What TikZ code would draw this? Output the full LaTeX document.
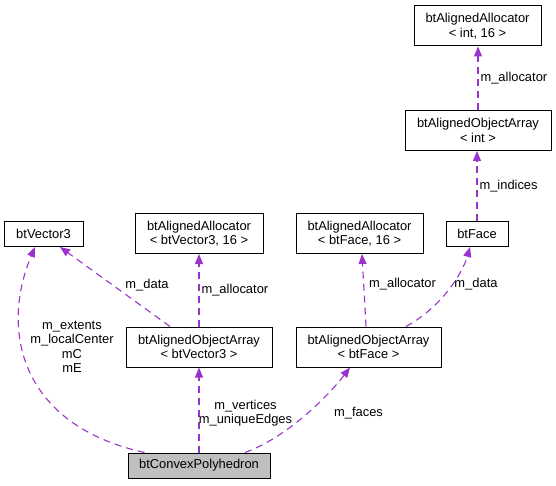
\documentclass[tikz,border=0pt]{standalone}
\usepackage{fontspec}
\setmainfont{Liberation Sans}
\usetikzlibrary{positioning,arrows.meta}
\definecolor{edgepurple}{HTML}{9A32CD}
\definecolor{mainfill}{HTML}{BFBFBF}
\tikzstyle{cls} = [draw, rectangle, line width=1pt, inner sep=0pt, align=center, font=\fontsize{12.9}{14.4}\selectfont]
\tikzstyle{arrow} = [edgepurple, line width=1.1pt, dash pattern=on 7pt off 5pt, -{Triangle[length=10pt,width=8pt]}]
\tikzstyle{lbl} = [text=black, inner sep=2pt, align=center, font=\fontsize{12.9}{14.4}\selectfont]

\begin{document}
\begin{tikzpicture}[x=1pt, y=1pt]

    \useasboundingbox (0,0) rectangle (556,485);

    \node[cls, minimum width=127pt, minimum height=40pt] (allocInt)  at (477.5,459)   {btAlignedAllocator\\< int, 16 >};
    \node[cls, minimum width=146pt, minimum height=40pt] (arrInt)    at (478,354.5)   {btAlignedObjectArray\\< int >};
    \node[cls, minimum width=62pt,  minimum height=25pt] (face)      at (477,251)     {btFace};
    \node[cls, minimum width=79pt,  minimum height=25pt] (vec3)      at (43.5,251)    {btVector3};
    \node[cls, minimum width=128pt, minimum height=40pt] (allocVec3) at (199,251.5)   {btAlignedAllocator\\< btVector3, 16 >};
    \node[cls, minimum width=127pt, minimum height=40pt] (allocFace) at (359.5,251.5) {btAlignedAllocator\\< btFace, 16 >};
    \node[cls, minimum width=146pt, minimum height=40pt] (arrVec3)   at (199,138)     {btAlignedObjectArray\\< btVector3 >};
    \node[cls, minimum width=145pt, minimum height=40pt] (arrFace)   at (368.5,138)   {btAlignedObjectArray\\< btFace >};
    \node[cls, minimum width=142pt, minimum height=25pt, fill=mainfill] (poly) at (199,19.5) {btConvexPolyhedron};

    \draw[arrow] ([xshift=17pt]poly.north west) .. controls (20,60) and (0,155) .. ([xshift=-8.5pt]vec3.south);
    \draw[arrow] ([xshift=-29pt]arrVec3.north) -- ([xshift=16.5pt]vec3.south);
    \draw[arrow] (arrVec3.north) -- (allocVec3.south) node[midway, right, lbl] (lAllocVec3) {m\_allocator};
    \draw[arrow] (poly.north) -- (arrVec3.south);
    \draw[arrow] ([xshift=46pt]poly.north) .. controls (285,47) and (325,85) .. ([xshift=-18.5pt]arrFace.south);
    \draw[arrow] ([xshift=-2.5pt]arrFace.north) -- ([xshift=2.5pt]allocFace.south);
    \draw[arrow] ([xshift=37.5pt]arrFace.north) .. controls (440,177) and (462,210) .. ([xshift=-7pt]face.south);
    \draw[arrow] (face.north) -- (face.north |- arrInt.south) node[midway, right, lbl] (lIndices) {m\_indices};
    \draw[arrow] (arrInt.north) -- (arrInt.north |- allocInt.south) node[midway, right, lbl] (lAllocInt) {m\_allocator};

    \node[lbl] (lExtents)  at (72,138)    {m\_extents\\m\_localCenter\\mC\\mE};
    \node[lbl] (lDataVec3) at (147,200)   {m\_data};
    \node[lbl] (lVertices) at (245.5,72)  {m\_vertices\\m\_uniqueEdges};
    \node[lbl] (lFaces)    at (358.5,72)  {m\_faces};
    \node[lbl] (lAllocFace) at (402.5,201) {m\_allocator};
    \node[lbl] (lDataFace) at (476,201)   {m\_data};

\end{tikzpicture}
\end{document}
